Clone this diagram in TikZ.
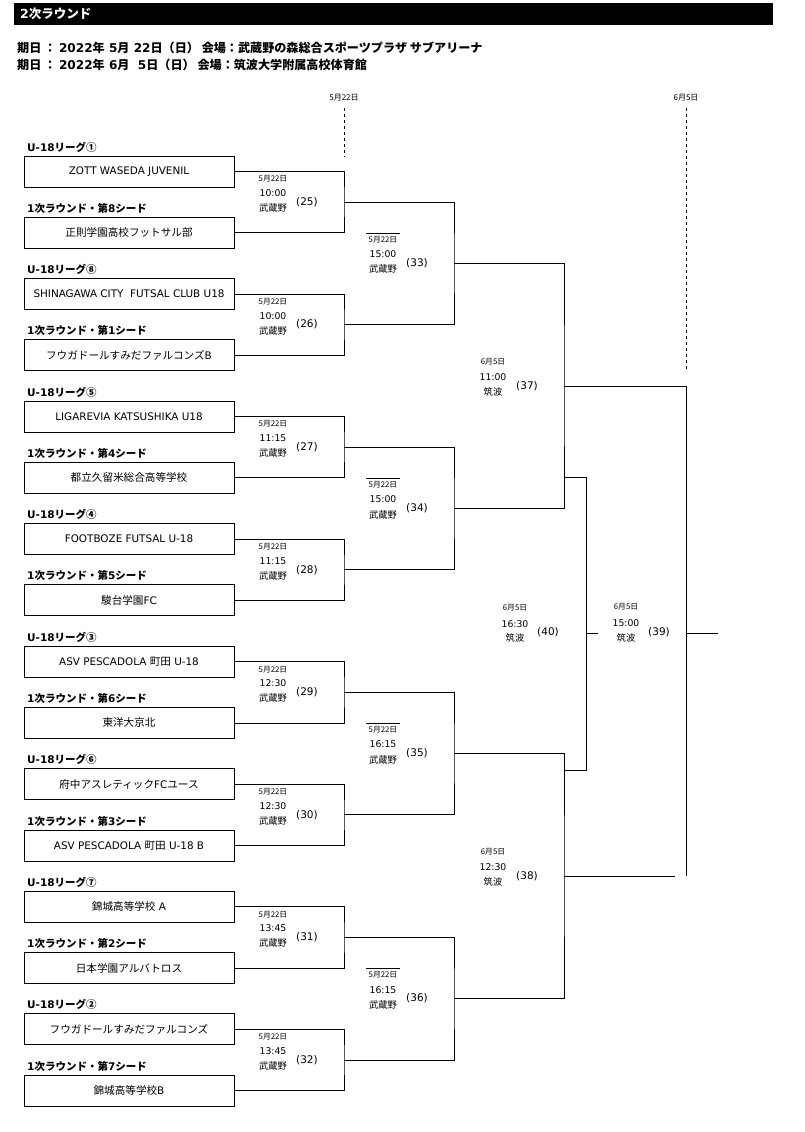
\documentclass[tikz,border=0pt]{standalone}
\usepackage{fontspec}
\setmainfont{DejaVu Sans}
\newfontfamily\jp{Noto Sans CJK JP}
\newcommand\myfs[1]{\fontsize{#1}{#1}\selectfont}
\begin{document}
\begin{tikzpicture}[x=1pt,y=-1pt,
  wire/.style={line width=0.8pt},
  teambox/.style={draw, line width=0.8pt, minimum width=210pt, minimum height=31pt, inner sep=0pt, font=\myfs{10.4}},
  grouplbl/.style={anchor=west, inner sep=0pt, font=\myfs{10.5}\bfseries},
  mdate/.style={inner sep=0pt, font=\jp\myfs{7.8}},
  mtime/.style={inner sep=0pt, font=\myfs{9.3}},
  mvenue/.style={inner sep=0pt, font=\jp\myfs{9.3}},
  mnum/.style={inner sep=0pt, font=\myfs{10.5}},
  toplbl/.style={inner sep=0pt, font=\jp\myfs{8}},
  headline/.style={anchor=west, inner sep=0pt, font=\myfs{12.1}\bfseries}
]
\useasboundingbox (0,0) rectangle (804,1132);
% title bar
\fill[black] (14,3) rectangle (773,25);
\node[anchor=west, inner sep=0pt, text=white, font=\myfs{12.5}\bfseries] (title) at (20,14) {2{\jp 次ラウンド}};
\node[headline] (h1) at (17,48) {{\jp 期日 ： }2022{\jp 年} 5{\jp 月} 22{\jp 日（日） 会場：武蔵野の森総合スポーツプラザ サブアリーナ}};
\node[headline] (h2) at (17,65) {{\jp 期日 ： }2022{\jp 年} 6{\jp 月}\ \ 5{\jp 日（日） 会場：筑波大学附属高校体育館}};
% date columns
\node[toplbl] (d1) at (344,98) {5月22日};
\node[toplbl] (d2) at (686,98) {6月5日};
\coordinate (d1a) at (344,108); \coordinate (d1b) at (344,157);
\coordinate (d2a) at (686,108); \coordinate (d2b) at (686,370);
\draw[wire, dashed] (d1a) -- (d1b);
\draw[wire, dashed] (d2a) -- (d2b);
% team boxes
\foreach \i/\nm in {
  0/{ZOTT WASEDA JUVENIL},
  1/{{\jp\myfs{10.6}正則学園高校フットサル部}},
  2/{SHINAGAWA CITY\ \ FUTSAL CLUB U18},
  3/{{\jp\myfs{10.6}フウガドールすみだファルコンズ}B},
  4/{LIGAREVIA KATSUSHIKA U18},
  5/{{\jp\myfs{10.6}都立久留米総合高等学校}},
  6/{FOOTBOZE FUTSAL U-18},
  7/{{\jp\myfs{10.6}駿台学園}FC},
  8/{ASV PESCADOLA {\jp\myfs{10.6}町田} U-18},
  9/{{\jp\myfs{10.6}東洋大京北}},
  10/{{\jp\myfs{10.6}府中アスレティック}FC{\jp\myfs{10.6}ユース}},
  11/{ASV PESCADOLA {\jp\myfs{10.6}町田} U-18 B},
  12/{{\jp\myfs{10.6}錦城高等学校} A},
  13/{{\jp\myfs{10.6}日本学園アルバトロス}},
  14/{{\jp\myfs{10.6}フウガドールすみだファルコンズ}},
  15/{{\jp\myfs{10.6}錦城高等学校}B}}{
  \pgfmathsetmacro\cy{171.5+61.27*\i}
  \node[teambox] (b\i) at (129,\cy) {\nm};
}
% group labels
\foreach \i/\lb in {
  0/{U-18{\jp リーグ①}}, 1/{1{\jp 次ラウンド・第}8{\jp シード}},
  2/{U-18{\jp リーグ⑧}}, 3/{1{\jp 次ラウンド・第}1{\jp シード}},
  4/{U-18{\jp リーグ⑤}}, 5/{1{\jp 次ラウンド・第}4{\jp シード}},
  6/{U-18{\jp リーグ④}}, 7/{1{\jp 次ラウンド・第}5{\jp シード}},
  8/{U-18{\jp リーグ③}}, 9/{1{\jp 次ラウンド・第}6{\jp シード}},
  10/{U-18{\jp リーグ⑥}}, 11/{1{\jp 次ラウンド・第}3{\jp シード}},
  12/{U-18{\jp リーグ⑦}}, 13/{1{\jp 次ラウンド・第}2{\jp シード}},
  14/{U-18{\jp リーグ②}}, 15/{1{\jp 次ラウンド・第}7{\jp シード}}}{
  \pgfmathsetmacro\ly{171.5+61.27*\i-24.5}
  \node[grouplbl] (g\i) at (27,\ly) {\lb};
}
% first round
\foreach \k/\tm in {0/10:00,1/10:00,2/11:15,3/11:15,4/12:30,5/12:30,6/13:45,7/13:45}{
  \pgfmathsetmacro\qy{171.5+61.27*(2*\k+0.5)}
  \pgfmathtruncatemacro\a{2*\k}
  \pgfmathtruncatemacro\b{2*\k+1}
  \pgfmathtruncatemacro\mn{25+\k}
  \coordinate (q\k) at (344,\qy);
  \draw[wire] (b\a.east) -| (q\k) |- (b\b.east);
  \node[mdate] (qd\k) at (273,\qy-23) {5月22日};
  \node[mtime] (qt\k) at (273,\qy-9) {\tm};
  \node[mvenue] (qv\k) at (273,\qy+6) {武蔵野};
  \node[mnum] (qn\k) at (307,\qy) {(\mn)};
}
% second round
\foreach \j/\tm in {0/15:00,1/15:00,2/16:15,3/16:15}{
  \pgfmathsetmacro\sy{171.5+61.27*(4*\j+1.5)}
  \pgfmathtruncatemacro\a{2*\j}
  \pgfmathtruncatemacro\b{2*\j+1}
  \pgfmathtruncatemacro\mn{33+\j}
  \coordinate (s\j) at (454,\sy);
  \draw[wire] (q\a) -| (s\j) |- (q\b);
  \coordinate (ol\j a) at (366,\sy-30);
  \coordinate (ol\j b) at (400,\sy-30);
  \draw[line width=0.6pt] (ol\j a) -- (ol\j b);
  \node[mdate] (sd\j) at (383,\sy-24) {5月22日};
  \node[mtime] (st\j) at (383,\sy-9) {\tm};
  \node[mvenue] (sv\j) at (383,\sy+6) {武蔵野};
  \node[mnum] (sn\j) at (417,\sy) {(\mn)};
}
% third round (37),(38)
\coordinate (t0) at (564,385.9);
\coordinate (t1) at (564,876.1);
\draw[wire] (s0) -| (t0) |- (s1);
\draw[wire] (s2) -| (t1) |- (s3);
\foreach \n/\yy/\tm/\mn in {0/385.9/11:00/37, 1/876.1/12:30/38}{
  \node[mdate] (td\n) at (493,\yy-24) {6月5日};
  \node[mtime] (tt\n) at (493,\yy-9) {\tm};
  \node[mvenue] (tv\n) at (493,\yy+6) {筑波};
  \node[mnum] (tn\n) at (527,\yy) {(\mn)};
}
% match (40)
\coordinate (ua0) at (564,477);
\coordinate (ua) at (586,477);
\coordinate (ub) at (586,770);
\coordinate (ub0) at (564,770);
\coordinate (u) at (586,633);
\coordinate (uend) at (598,633);
\draw[wire] (ua0) -- (ua) -- (ub) -- (ub0);
\draw[wire] (u) -- (uend);
\node[mdate] (ud) at (515,608) {6月5日};
\node[mtime] (ut) at (515,624) {16:30};
\node[mvenue] (uv) at (515,638) {筑波};
\node[mnum] (un) at (548,632) {(40)};
% final (39)
\coordinate (fa) at (686,385.9);
\coordinate (fb) at (686,876.1);
\coordinate (g38) at (675,876.1);
\coordinate (f) at (686,633);
\coordinate (fend) at (718,633);
\draw[wire] (t0) -- (fa) -- (fb);
\draw[wire] (t1) -- (g38);
\draw[wire] (f) -- (fend);
\node[mdate] (fd) at (626,607) {6月5日};
\node[mtime] (ft) at (626,623) {15:00};
\node[mvenue] (fv) at (626,638) {筑波};
\node[mnum] (fn) at (659,632) {(39)};
\end{tikzpicture}
\end{document}
